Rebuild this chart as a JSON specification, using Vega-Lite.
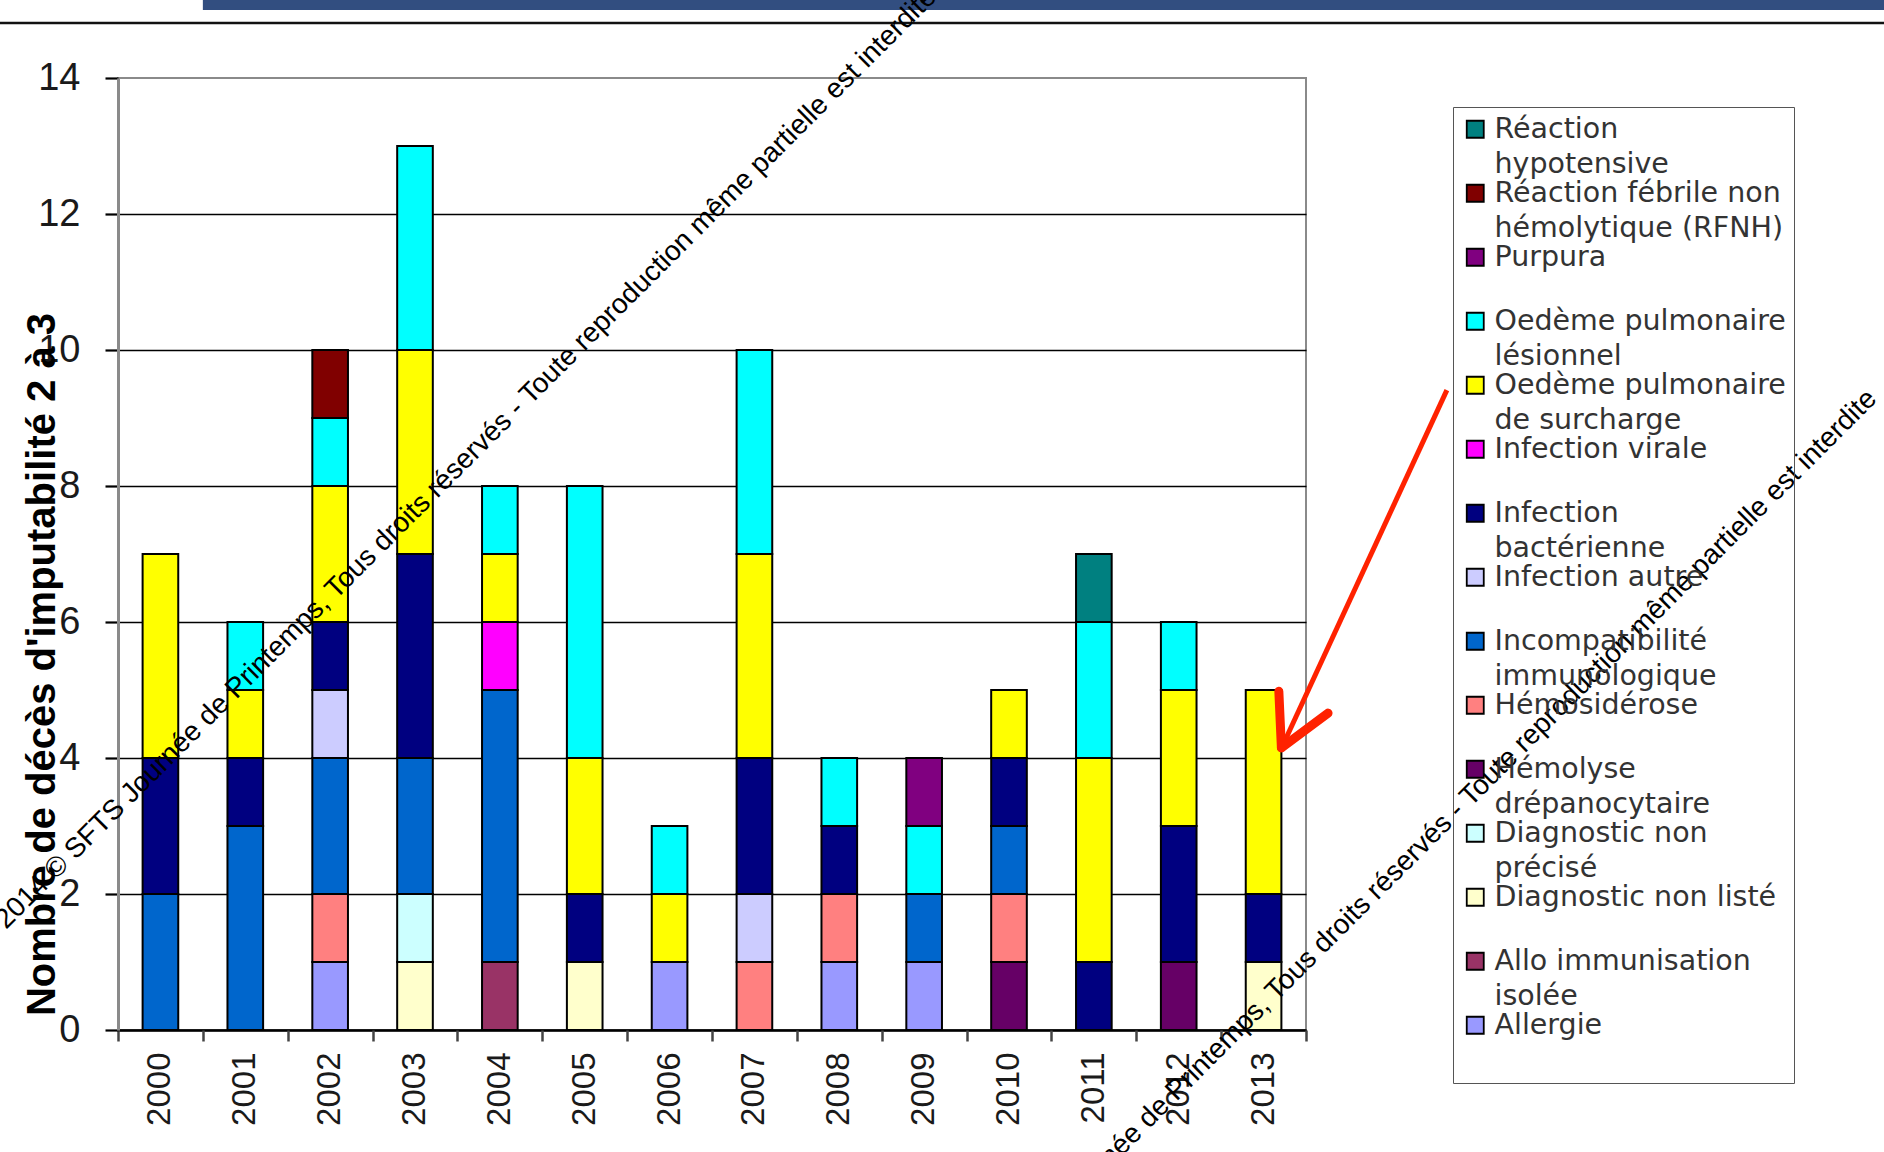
{
  "$schema": "https://vega.github.io/schema/vega-lite/v6.json",
  "width": 1188,
  "height": 952,
  "autosize": {"type": "none"},
  "padding": {"left": 118, "top": 78, "right": 578, "bottom": 122},
  "background": "white",
  "config": {
    "view": {"stroke": "#8a8a8a", "strokeWidth": 2},
    "style": {"guide-label": {"lineHeight": 34.5}}
  },
  "datasets": {
    "categories": [
      {"categorie": "Allergie", "rang": 1},
      {"categorie": "Allo immunisation isolée", "rang": 2},
      {"categorie": "Diagnostic non listé", "rang": 3},
      {"categorie": "Diagnostic non précisé", "rang": 4},
      {"categorie": "Hémolyse drépanocytaire", "rang": 5},
      {"categorie": "Hémosidérose", "rang": 6},
      {"categorie": "Incompatibilité immunologique", "rang": 7},
      {"categorie": "Infection autre", "rang": 8},
      {"categorie": "Infection bactérienne", "rang": 9},
      {"categorie": "Infection virale", "rang": 10},
      {"categorie": "Oedème pulmonaire de surcharge", "rang": 11},
      {"categorie": "Oedème pulmonaire lésionnel", "rang": 12},
      {"categorie": "Purpura", "rang": 13},
      {"categorie": "Réaction fébrile non hémolytique (RFNH)", "rang": 14},
      {"categorie": "Réaction hypotensive", "rang": 15}
    ],
    "deces": [
      {"annee": "2000", "categorie": "Incompatibilité immunologique", "n": 2},
      {"annee": "2000", "categorie": "Infection bactérienne", "n": 2},
      {"annee": "2000", "categorie": "Oedème pulmonaire de surcharge", "n": 3},
      {"annee": "2001", "categorie": "Incompatibilité immunologique", "n": 3},
      {"annee": "2001", "categorie": "Infection bactérienne", "n": 1},
      {"annee": "2001", "categorie": "Oedème pulmonaire de surcharge", "n": 1},
      {"annee": "2001", "categorie": "Oedème pulmonaire lésionnel", "n": 1},
      {"annee": "2002", "categorie": "Allergie", "n": 1},
      {"annee": "2002", "categorie": "Hémosidérose", "n": 1},
      {"annee": "2002", "categorie": "Incompatibilité immunologique", "n": 2},
      {"annee": "2002", "categorie": "Infection autre", "n": 1},
      {"annee": "2002", "categorie": "Infection bactérienne", "n": 1},
      {"annee": "2002", "categorie": "Oedème pulmonaire de surcharge", "n": 2},
      {"annee": "2002", "categorie": "Oedème pulmonaire lésionnel", "n": 1},
      {"annee": "2002", "categorie": "Réaction fébrile non hémolytique (RFNH)", "n": 1},
      {"annee": "2003", "categorie": "Diagnostic non listé", "n": 1},
      {"annee": "2003", "categorie": "Diagnostic non précisé", "n": 1},
      {"annee": "2003", "categorie": "Incompatibilité immunologique", "n": 2},
      {"annee": "2003", "categorie": "Infection bactérienne", "n": 3},
      {"annee": "2003", "categorie": "Oedème pulmonaire de surcharge", "n": 3},
      {"annee": "2003", "categorie": "Oedème pulmonaire lésionnel", "n": 3},
      {"annee": "2004", "categorie": "Allo immunisation isolée", "n": 1},
      {"annee": "2004", "categorie": "Incompatibilité immunologique", "n": 4},
      {"annee": "2004", "categorie": "Infection virale", "n": 1},
      {"annee": "2004", "categorie": "Oedème pulmonaire de surcharge", "n": 1},
      {"annee": "2004", "categorie": "Oedème pulmonaire lésionnel", "n": 1},
      {"annee": "2005", "categorie": "Diagnostic non listé", "n": 1},
      {"annee": "2005", "categorie": "Infection bactérienne", "n": 1},
      {"annee": "2005", "categorie": "Oedème pulmonaire de surcharge", "n": 2},
      {"annee": "2005", "categorie": "Oedème pulmonaire lésionnel", "n": 4},
      {"annee": "2006", "categorie": "Allergie", "n": 1},
      {"annee": "2006", "categorie": "Oedème pulmonaire de surcharge", "n": 1},
      {"annee": "2006", "categorie": "Oedème pulmonaire lésionnel", "n": 1},
      {"annee": "2007", "categorie": "Hémosidérose", "n": 1},
      {"annee": "2007", "categorie": "Infection autre", "n": 1},
      {"annee": "2007", "categorie": "Infection bactérienne", "n": 2},
      {"annee": "2007", "categorie": "Oedème pulmonaire de surcharge", "n": 3},
      {"annee": "2007", "categorie": "Oedème pulmonaire lésionnel", "n": 3},
      {"annee": "2008", "categorie": "Allergie", "n": 1},
      {"annee": "2008", "categorie": "Hémosidérose", "n": 1},
      {"annee": "2008", "categorie": "Infection bactérienne", "n": 1},
      {"annee": "2008", "categorie": "Oedème pulmonaire lésionnel", "n": 1},
      {"annee": "2009", "categorie": "Allergie", "n": 1},
      {"annee": "2009", "categorie": "Incompatibilité immunologique", "n": 1},
      {"annee": "2009", "categorie": "Oedème pulmonaire lésionnel", "n": 1},
      {"annee": "2009", "categorie": "Purpura", "n": 1},
      {"annee": "2010", "categorie": "Hémolyse drépanocytaire", "n": 1},
      {"annee": "2010", "categorie": "Hémosidérose", "n": 1},
      {"annee": "2010", "categorie": "Incompatibilité immunologique", "n": 1},
      {"annee": "2010", "categorie": "Infection bactérienne", "n": 1},
      {"annee": "2010", "categorie": "Oedème pulmonaire de surcharge", "n": 1},
      {"annee": "2011", "categorie": "Infection bactérienne", "n": 1},
      {"annee": "2011", "categorie": "Oedème pulmonaire de surcharge", "n": 3},
      {"annee": "2011", "categorie": "Oedème pulmonaire lésionnel", "n": 2},
      {"annee": "2011", "categorie": "Réaction hypotensive", "n": 1},
      {"annee": "2012", "categorie": "Hémolyse drépanocytaire", "n": 1},
      {"annee": "2012", "categorie": "Infection bactérienne", "n": 2},
      {"annee": "2012", "categorie": "Oedème pulmonaire de surcharge", "n": 2},
      {"annee": "2012", "categorie": "Oedème pulmonaire lésionnel", "n": 1},
      {"annee": "2013", "categorie": "Diagnostic non listé", "n": 1},
      {"annee": "2013", "categorie": "Infection bactérienne", "n": 1},
      {"annee": "2013", "categorie": "Oedème pulmonaire de surcharge", "n": 3}
    ]
  },
  "layer": [
    {
      "data": {"name": "deces"},
      "transform": [
        {"lookup": "categorie", "from": {"data": {"name": "categories"}, "key": "categorie", "fields": ["rang"]}}
      ],
      "mark": {"type": "bar", "stroke": "#000", "strokeWidth": 2},
      "encoding": {
        "x": {
          "field": "annee", "type": "ordinal",
          "scale": {"paddingInner": 0.58, "paddingOuter": 0.29},
          "axis": {
            "title": null, "ticks": false, "grid": false,
            "domainColor": "#000", "domainWidth": 2.5,
            "labelAngle": 270, "labelFont": "Liberation Sans", "labelFontSize": 33,
            "labelColor": "#1a1a1a", "labelPadding": 22
          }
        },
        "y": {
          "field": "n", "type": "quantitative", "stack": "zero",
          "scale": {"domain": [0, 14], "nice": false},
          "axis": {
            "title": "Nombre de décès d'imputabilité 2 à 3",
            "values": [0, 2, 4, 6, 8, 10, 12, 14], "format": "d",
            "grid": true, "gridColor": "#000", "gridWidth": 1.5,
            "gridOpacity": {"condition": {"test": "datum.value >= 14", "value": 0}, "value": 1},
            "domainColor": "#8a8a8a", "domainWidth": 3,
            "tickColor": "#000", "tickSize": 13, "tickWidth": 2.2,
            "labelFont": "Liberation Sans", "labelFontSize": 38, "labelColor": "#1a1a1a", "labelPadding": 25,
            "titleFont": "Liberation Sans", "titleFontWeight": "bold", "titleFontSize": 40, "titleColor": "#000",
            "titleAngle": 270, "titleAlign": "center", "titleBaseline": "alphabetic",
            "titleX": -64, "titleY": 586
          }
        },
        "color": {
          "field": "categorie", "type": "nominal",
          "scale": {
            "domain": ["Réaction hypotensive", "Réaction fébrile non hémolytique (RFNH)", "Purpura", "Oedème pulmonaire lésionnel", "Oedème pulmonaire de surcharge", "Infection virale", "Infection bactérienne", "Infection autre", "Incompatibilité immunologique", "Hémosidérose", "Hémolyse drépanocytaire", "Diagnostic non précisé", "Diagnostic non listé", "Allo immunisation isolée", "Allergie"],
            "range": ["#008080", "#800000", "#800080", "#00ffff", "#ffff00", "#ff00ff", "#000080", "#ccccff", "#0066cc", "#ff8080", "#660066", "#ccffff", "#ffffcc", "#993366", "#9999ff"]
          },
          "legend": {
            "title": null, "orient": "none", "legendX": 1335, "legendY": 29, "direction": "vertical",
            "padding": 8, "strokeColor": "#555",
            "symbolType": "square", "symbolSize": 289, "symbolStrokeColor": "#000", "symbolStrokeWidth": 1.8, "symbolOpacity": 1,
            "labelFont": "DejaVu Sans", "labelFontSize": 28.5, "labelColor": "#333", "labelBaseline": "middle",
            "labelOffset": 5, "labelLimit": 500, "rowPadding": 0,
            "labelExpr": "datum.label == 'Réaction hypotensive' ? ['Réaction', 'hypotensive'] : datum.label == 'Réaction fébrile non hémolytique (RFNH)' ? ['Réaction fébrile non', 'hémolytique (RFNH)'] : datum.label == 'Oedème pulmonaire lésionnel' ? ['Oedème pulmonaire', 'lésionnel'] : datum.label == 'Oedème pulmonaire de surcharge' ? ['Oedème pulmonaire', 'de surcharge'] : datum.label == 'Infection bactérienne' ? ['Infection', 'bactérienne'] : datum.label == 'Incompatibilité immunologique' ? ['Incompatibilité', 'immunologique'] : datum.label == 'Hémolyse drépanocytaire' ? ['Hémolyse', 'drépanocytaire'] : datum.label == 'Diagnostic non précisé' ? ['Diagnostic non', 'précisé'] : datum.label == 'Allo immunisation isolée' ? ['Allo immunisation', 'isolée'] : [datum.label, '']"
          }
        },
        "order": {"field": "rang", "type": "quantitative", "sort": "ascending"}
      }
    },
    {
      "data": {"values": [{}]},
      "mark": {"type": "rule", "stroke": "#111", "strokeWidth": 2.5},
      "encoding": {
        "x": {
          "datum": 1998.0, "type": "quantitative",
          "scale": {"domain": [1999.5, 2013.5], "nice": false, "zero": false},
          "axis": {
            "orient": "bottom", "title": null, "labels": false, "domain": false, "grid": false,
            "values": [1999.5, 2000.5, 2001.5, 2002.5, 2003.5, 2004.5, 2005.5, 2006.5, 2007.5, 2008.5, 2009.5, 2010.5, 2011.5, 2012.5, 2013.5],
            "ticks": true, "tickSize": 11, "tickColor": "#444", "tickWidth": 2.5
          }
        },
        "x2": {"datum": 2020.5},
        "y": {"datum": 14.81, "type": "quantitative", "scale": {"domain": [0, 14], "nice": false}}
      }
    },
    {
      "data": {"values": [{}]},
      "mark": {"type": "rect", "fill": "#324e80"},
      "encoding": {
        "x": {"datum": 2000.5, "type": "quantitative", "scale": {"domain": [1999.5, 2013.5], "nice": false, "zero": false}, "axis": null},
        "x2": {"datum": 2020.5},
        "y": {"datum": 15.3, "type": "quantitative", "scale": {"domain": [0, 14], "nice": false}},
        "y2": {"datum": 15.0}
      }
    },
    {
      "data": {"values": [{}]},
      "mark": {
        "type": "text", "text": "2014 © SFTS Journée de Printemps, Tous droits réservés - Toute reproduction même partielle est interdite",
        "angle": 315, "align": "left", "baseline": "alphabetic",
        "font": "Liberation Sans", "fontSize": 28, "fill": "#000"
      },
      "encoding": {
        "x": {"datum": 1998.18, "type": "quantitative", "scale": {"domain": [1999.5, 2013.5], "nice": false, "zero": false}, "axis": null},
        "y": {"datum": 1.47, "type": "quantitative", "scale": {"domain": [0, 14], "nice": false}}
      }
    },
    {
      "data": {"values": [{}]},
      "mark": {
        "type": "text", "text": "2014 © SFTS Journée de Printemps, Tous droits réservés - Toute reproduction même partielle est interdite",
        "angle": 315, "align": "right", "baseline": "alphabetic",
        "font": "Liberation Sans", "fontSize": 28, "fill": "#000"
      },
      "encoding": {
        "x": {"datum": 2020.24, "type": "quantitative", "scale": {"domain": [1999.5, 2013.5], "nice": false, "zero": false}, "axis": null},
        "y": {"datum": 9.26, "type": "quantitative", "scale": {"domain": [0, 14], "nice": false}}
      }
    },
    {
      "data": {"values": [{}]},
      "mark": {"type": "rule", "stroke": "#ff2200", "strokeWidth": 5, "strokeCap": "butt"},
      "encoding": {
        "x": {"datum": 2015.16, "type": "quantitative", "scale": {"domain": [1999.5, 2013.5], "nice": false, "zero": false}, "axis": null},
        "x2": {"datum": 2013.22},
        "y": {"datum": 9.41, "type": "quantitative", "scale": {"domain": [0, 14], "nice": false}},
        "y2": {"datum": 4.17}
      }
    },
    {
      "data": {"values": [{}]},
      "mark": {"type": "rule", "stroke": "#ff2200", "strokeWidth": 9, "strokeCap": "round"},
      "encoding": {
        "x": {"datum": 2013.18, "type": "quantitative", "scale": {"domain": [1999.5, 2013.5], "nice": false, "zero": false}, "axis": null},
        "x2": {"datum": 2013.21},
        "y": {"datum": 4.98, "type": "quantitative", "scale": {"domain": [0, 14], "nice": false}},
        "y2": {"datum": 4.15}
      }
    },
    {
      "data": {"values": [{}]},
      "mark": {"type": "rule", "stroke": "#ff2200", "strokeWidth": 9, "strokeCap": "round"},
      "encoding": {
        "x": {"datum": 2013.76, "type": "quantitative", "scale": {"domain": [1999.5, 2013.5], "nice": false, "zero": false}, "axis": null},
        "x2": {"datum": 2013.21},
        "y": {"datum": 4.66, "type": "quantitative", "scale": {"domain": [0, 14], "nice": false}},
        "y2": {"datum": 4.15}
      }
    }
  ],
  "resolve": {"scale": {"x": "independent"}, "axis": {"x": "independent"}}
}
